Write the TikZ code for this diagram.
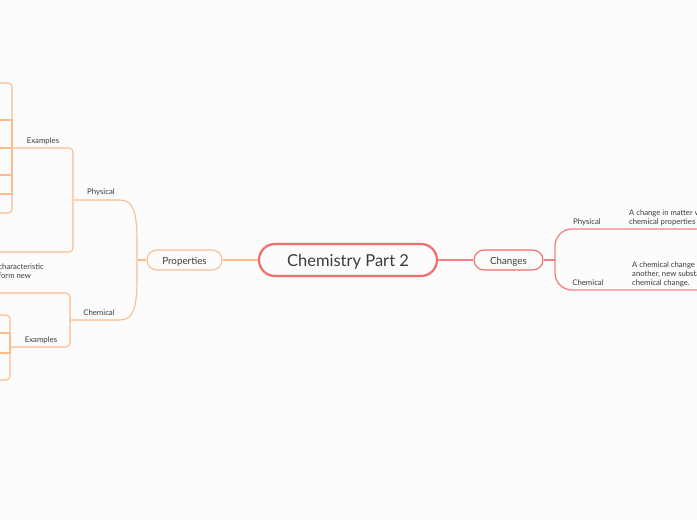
\documentclass[tikz,border=0pt]{standalone}
\usepackage{fontspec}
\setmainfont{Lato}
\usepackage{tikz}

\definecolor{rootred}{RGB}{243,108,108}
\definecolor{chgline}{RGB}{246,128,128}
\definecolor{propline}{RGB}{253,188,142}
\definecolor{txtgray}{RGB}{60,60,60}
\definecolor{bggray}{RGB}{252,252,252}

\tikzset{
  rootbox/.style={draw=rootred, line width=2.2pt, rounded corners=16pt, minimum width=178pt,
    minimum height=32pt, text height=13pt, text depth=0pt, text=txtgray,
    font=\fontsize{16.5}{18}\selectfont},
  topicbox/.style={rounded corners=10pt, line width=1.1pt, minimum height=20pt,
    text height=8pt, text depth=0pt, text=txtgray, font=\fontsize{9.8}{11}\selectfont},
  lbl/.style={text=txtgray, inner sep=0pt, font=\fontsize{7.8}{9}\selectfont},
  desc/.style={text=txtgray, inner sep=0pt, align=left, font=\fontsize{7.7}{9}\selectfont},
  oline/.style={draw=propline, line width=1.1pt},
  rline/.style={draw=chgline, line width=1.3pt}
}

\begin{document}
\begin{tikzpicture}[x=1pt,y=-1pt]
\fill[bggray] (0,0) rectangle (697,520);
\useasboundingbox (0,0) rectangle (697,520);
\clip (0,0) rectangle (697,520);

\node[rootbox] (root) at (348,260) {Chemistry Part 2};
\node[topicbox, draw=propline, minimum width=75pt] (prop) at (184.5,260) {Properties};
\node[topicbox, draw=rootred, minimum width=69pt] (chg) at (508.5,260) {Changes};

\draw[oline] (prop) -- (root);
\draw[rline] (root) -- (chg);

%-------------------------------------
% Properties side
\coordinate (pj) at (137,260);
\coordinate (phys) at (73,200);
\coordinate (chem) at (70,320);
\coordinate (pex) at (12,148);
\coordinate (cex) at (10,347);

\draw[oline] (prop) -- (pj);
\draw[oline] (pj) -- (137,240) .. controls (137,212) and (133,200) .. (120,200) -- (phys);
\draw[oline] (pj) -- (137,280) .. controls (137,308) and (133,320) .. (120,320) -- (chem);

\node[lbl] (physlbl) at (101,192) {Physical};
\node[lbl] (chemlbl) at (99,313) {Chemical};

% physical
\coordinate (pleaf) at (-5,252);
\draw[oline, rounded corners=4pt] (pex) -| (phys);
\draw[oline, rounded corners=4pt] (phys) |- (pleaf);
\node[lbl] (pexlbl) at (43,141) {Examples};

\foreach \y [count=\i] in {83,120,148,175,194,213}
  \coordinate (px\i) at (-5,\y);
\draw[oline, rounded corners=4pt] (px1) -| (pex);
\draw[oline, rounded corners=4pt] (pex) |- (px6);
\foreach \i in {2,3,4,5}
  \draw[oline] (px\i) -| (pex);

% chemical
\coordinate (cleaf) at (-5,293);
\draw[oline, rounded corners=4pt] (cleaf) -| (chem);
\draw[oline, rounded corners=4pt] (chem) |- (cex);
\node[desc, anchor=north east] (cleaftxt) at (44,263.5) {characteristic\\form new};
\node[lbl] (cexlbl) at (41,340) {Examples};

\foreach \y [count=\i] in {315,333,353,380}
  \coordinate (cx\i) at (-5,\y);
\draw[oline, rounded corners=4pt] (cx1) -| (cex);
\draw[oline, rounded corners=4pt] (cex) |- (cx4);
\foreach \i in {2,3}
  \draw[oline] (cx\i) -| (cex);

%-------------------------------------
% Changes side
\coordinate (cj) at (555,260);
\coordinate (gphys) at (705,229);
\coordinate (gchem) at (705,290);

\draw[rline] (chg) -- (cj);
\draw[rline, rounded corners=17pt] (cj) |- (gphys);
\draw[rline, rounded corners=17pt] (cj) |- (gchem);

\node[lbl] (gphyslbl) at (587,222) {Physical};
\node[lbl] (gchemlbl) at (588,283) {Chemical};
\node[desc, anchor=north west] (gphystxt) at (629,209.5) {A change in matter w\\chemical properties};
\node[desc, anchor=north west] (gchemtxt) at (632,261.5) {A chemical change\\another, new substa\\chemical change.};
\end{tikzpicture}
\end{document}
